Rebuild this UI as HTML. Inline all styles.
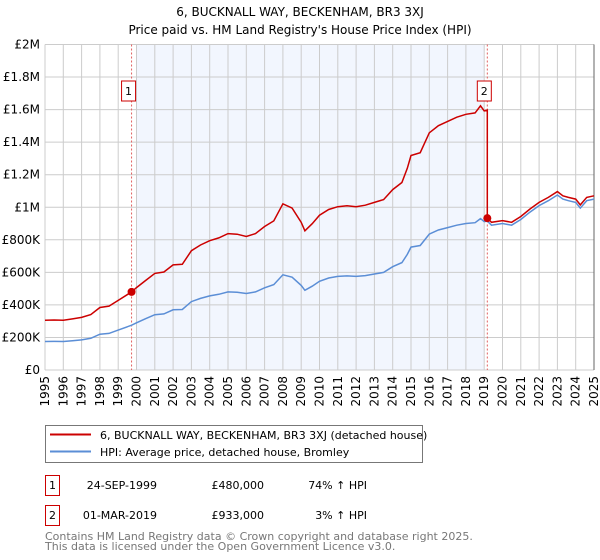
<!DOCTYPE html>
<html><head><meta charset="utf-8"><style>
body{margin:0;background:#fff}
svg{display:block;font-family:"DejaVu Sans","Liberation Sans",sans-serif}
</style></head><body>
<svg id="c" width="600" height="560" viewBox="0 0 600 560">
<text x="300" y="16" text-anchor="middle" font-size="12">6, BUCKNALL WAY, BECKENHAM, BR3 3XJ</text>
<text x="300" y="34" text-anchor="middle" font-size="12">Price paid vs. HM Land Registry's House Price Index (HPI)</text>
<g id="plot"></g>
<g>
<rect x="45.5" y="425.5" width="377" height="37" fill="#fff" stroke="#777"/>
<line x1="50" y1="434.5" x2="91" y2="434.5" stroke="#cc0000" stroke-width="2"/>
<text x="100" y="439" font-size="11">6, BUCKNALL WAY, BECKENHAM, BR3 3XJ (detached house)</text>
<line x1="50" y1="451.5" x2="91" y2="451.5" stroke="#5b8ed6" stroke-width="2"/>
<text x="100" y="456" font-size="11">HPI: Average price, detached house, Bromley</text>
</g>
<g font-size="11">
<rect x="45.5" y="475.5" width="14" height="20" fill="#fff" stroke="#cc0000"/>
<text x="52.5" y="489" text-anchor="middle">1</text>
<text x="157" y="489" text-anchor="end">24-SEP-1999</text>
<text x="264" y="489" text-anchor="end">£480,000</text>
<text x="367" y="489" text-anchor="end">74% ↑ HPI</text>
<rect x="45.5" y="505.5" width="14" height="20" fill="#fff" stroke="#cc0000"/>
<text x="52.5" y="519" text-anchor="middle">2</text>
<text x="157" y="519" text-anchor="end">01-MAR-2019</text>
<text x="264" y="519" text-anchor="end">£933,000</text>
<text x="367" y="519" text-anchor="end">3% ↑ HPI</text>
</g>
<text x="45" y="540" font-size="11" fill="#777">Contains HM Land Registry data © Crown copyright and database right 2025.</text>
<text x="45" y="550" font-size="11" fill="#777">This data is licensed under the Open Government Licence v3.0.</text>
</svg>
<script>
const hpiYears=[1995,1995.5,1996,1996.5,1997,1997.5,1998,1998.5,1999,1999.73,2000,2000.5,2001,2001.5,2002,2002.5,2003,2003.5,2004,2004.5,2005,2005.5,2006,2006.5,2007,2007.5,2008,2008.5,2009,2009.2,2009.6,2010,2010.5,2011,2011.5,2012,2012.5,2013,2013.5,2014,2014.5,2014.8,2015,2015.5,2016,2016.5,2017,2017.5,2018,2018.5,2018.8,2019,2019.17,2019.4,2020,2020.5,2021,2021.5,2022,2022.5,2023,2023.3,2023.6,2024,2024.25,2024.6,2025];
const hpiValues=[175,176,175,180,185,195,220,225,245,275,290,315,340,345,370,372,420,440,455,465,480,478,470,480,505,525,585,570,520,490,515,545,565,575,578,575,580,590,600,635,660,710,755,765,835,860,875,890,900,905,930,912,915,890,900,890,925,970,1010,1040,1075,1050,1040,1030,995,1040,1050];
const saleYears=[1999.73,2019.17];
const salePrices=[480,933];
const yTicks=[0,200,400,600,800,1000,1200,1400,1600,1800,2000];
const yTickLabels=["£0","£200K","£400K","£600K","£800K","£1M","£1.2M","£1.4M","£1.6M","£1.8M","£2M"];
const xTicks=[1995,1996,1997,1998,1999,2000,2001,2002,2003,2004,2005,2006,2007,2008,2009,2010,2011,2012,2013,2014,2015,2016,2017,2018,2019,2020,2021,2022,2023,2024,2025];

const NS="http://www.w3.org/2000/svg";
const L=45,R=594,T=44.5,B=370;
const x=v=>L+(v-1995)/30*(R-L);
const y=v=>B-v/2000*(B-T);
const g=document.getElementById('plot');
function mk(t,a,p){const e=document.createElementNS(NS,t);for(const k in a)e.setAttribute(k,a[k]);(p||g).appendChild(e);return e;}
function hpiAt(t){for(let i=0;i<hpiYears.length-1;i++){if(t>=hpiYears[i]&&t<=hpiYears[i+1]){const f=(t-hpiYears[i])/(hpiYears[i+1]-hpiYears[i]);return hpiValues[i]+f*(hpiValues[i+1]-hpiValues[i]);}}return hpiValues[hpiValues.length-1];}

const bg=mk('rect',{x:L,y:T,width:R-L,height:B-T,fill:'#fff'});


const sh=mk('rect',{x:x(2000),y:T,width:x(2019)-x(2000),height:B-T,fill:'#f2f6fe'});


yTicks.forEach((v,i)=>{
  mk('line',{x1:L,x2:R,y1:y(v),y2:y(v),stroke:'#ccc','stroke-width':1});
  const t=mk('text',{x:L-5,y:y(v)+4,'text-anchor':'end','font-size':12});
  t.textContent=yTickLabels[i];
  
  
});
xTicks.forEach(v=>{
  mk('line',{x1:x(v),x2:x(v),y1:T,y2:B,stroke:'#ccc','stroke-width':1});
  const t=mk('text',{x:0,y:0,'text-anchor':'end','font-size':12,transform:`translate(${x(v)+4},${B+6}) rotate(-90)`});
  t.textContent=v;
  
  
});
mk('line',{x1:R,x2:R,y1:T,y2:B,stroke:'#666','stroke-width':1});
saleYears.forEach((s,i)=>{
  const l=mk('line',{x1:x(s),x2:x(s),y1:T,y2:B,stroke:'#e06060','stroke-width':1,'stroke-dasharray':'2,2'});
  
  
  const bx=x(s)-3;
  const r=mk('rect',{x:bx-7,y:81,width:14,height:20,fill:'#fff',stroke:'#cc0000'});
  
  
  const t=mk('text',{x:bx,y:95,'text-anchor':'middle','font-size':11});
  t.textContent=String(i+1);
});
let hp='';
hpiYears.forEach((t,i)=>{hp+=(i?'L':'M')+x(t).toFixed(1)+','+y(hpiValues[i]).toFixed(1);});
const hl=mk('path',{d:hp,fill:'none',stroke:'#5b8ed6','stroke-width':1.5});


let pp='';
const pts=[];
hpiYears.forEach((t,i)=>{
  let k=0;for(let j=0;j<saleYears.length;j++)if(t>=saleYears[j])k=j;
  if(i>0&&hpiYears[i-1]<saleYears[1]&&t>=saleYears[1]){
    const prev=salePrices[0]*hpiAt(saleYears[1]-0.01)/hpiAt(saleYears[0]);
    pts.push([saleYears[1],prev]);
    pts.push([saleYears[1],salePrices[1]]);
  }
  pts.push([t,salePrices[k]*hpiValues[i]/hpiAt(saleYears[k])]);
});
pts.forEach((p,i)=>{pp+=(i?'L':'M')+x(p[0]).toFixed(1)+','+y(p[1]).toFixed(1);});
const pl=mk('path',{d:pp,fill:'none',stroke:'#cc0000','stroke-width':1.5});


saleYears.forEach((s,i)=>{
  const c=mk('circle',{cx:x(s),cy:y(salePrices[i]),r:4,fill:'#cc0000'});
  
  
});
</script>
</body></html>
